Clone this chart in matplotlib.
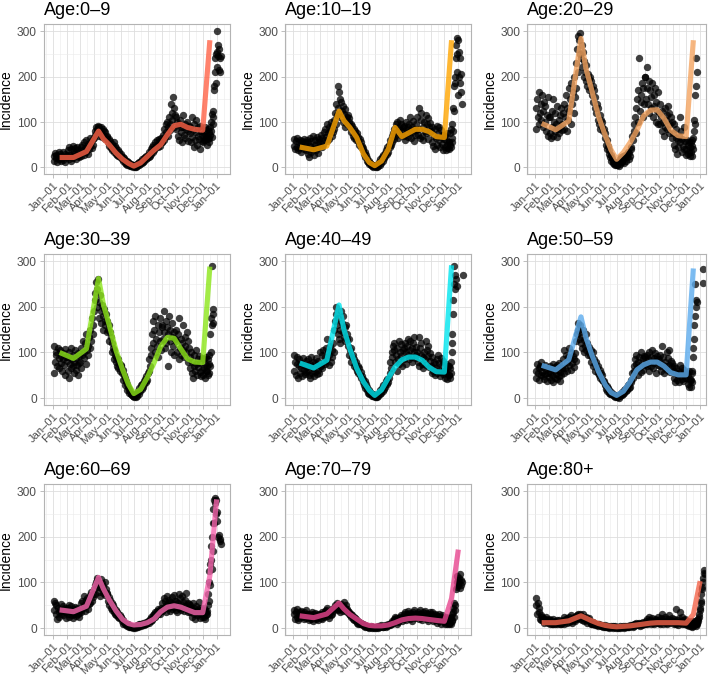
import numpy as np
import matplotlib
matplotlib.use("Agg")
import matplotlib.pyplot as plt

plt.rcParams['font.family'] = ['Liberation Sans', 'DejaVu Sans']

# ---------------- data ----------------
titles = ["Age:0–9", "Age:10–19", "Age:20–29", "Age:30–39", "Age:40–49",
          "Age:50–59", "Age:60–69", "Age:70–79", "Age:80+"]
line_colors = ["#FF6347", "#FFA500", "#F4A460", "#8CE619", "#00E5EE",
               "#5CACEE", "#F766AE", "#E8468F", "#F4644A"]

month_labels = ["Jan–01", "Feb–01", "Mar–01", "Apr–01", "May–01", "Jun–01", "Jul–01",
                "Aug–01", "Sep–01", "Oct–01", "Nov–01", "Dec–01", "Jan–01"]
month_days = [0, 31, 59, 90, 120, 151, 181, 212, 243, 273, 304, 334, 365]

# observation chunks: Jan..Nov, early Dec (day 334-344), then daily tail from day 344
chunk_starts = [0, 31, 59, 90, 120, 151, 181, 212, 243, 273, 304, 334]
chunk_ends = [31, 59, 90, 120, 151, 181, 212, 243, 273, 304, 334, 344]
tail_start = 344
nan = float("nan")

obs_0_9 = [
    [25, 15, 32, 20, 28, 12, 22, 35, 18, 30, 14, 26, 20, 33, 16, 24, 30, 12, 22, 28],
    [22, 38, 18, 45, 28, 15, 40, 25, 48, 20, 35, 30, 42, 18, 28, 45, 25, 38, 22, 32],
    [30, 45, 25, 50, 38, 28, 55, 42, 35, 60, 45, 30, 52, 40, 65, 48, 55, 42, 62, 50],
    [65, 80, 72, 90, 85, 78, 92, 70, 88, 82, 75, 90, 68, 85, 72, 80, 62, 78, 65, 70],
    [68, 55, 62, 48, 58, 42, 52, 38, 45, 55, 35, 48, 30, 42, 28, 38, 25, 35, 22, 30],
    [25, 18, 22, 14, 20, 10, 16, 8, 14, 6, 12, 5, 10, 3, 8, 4, 6, 2, 5, 3],
    [2, 5, 0, 8, 3, 10, 5, 12, 8, 15, 10, 18, 12, 20, 15, 22, 18, 25, 20, 28],
    [22, 35, 25, 40, 30, 45, 35, 50, 38, 55, 42, 48, 60, 45, 52, 62, 48, 58, 65, 55],
    [55, 72, 60, 85, 68, 95, 78, 100, 70, 88, 110, 82, 95, 140, 105, 120, 155, 90, 130, 115],
    [110, 85, 100, 70, 95, 60, 105, 78, 90, 55, 88, 115, 72, 95, 65, 85, 100, 58, 80, 92],
    [75, 90, 55, 110, 68, 82, 45, 95, 60, 78, 105, 50, 88, 70, 62, 92, 40, 80, 58, 72],
    [55, 75, 60, 90, 70, 62, 82, 50],
    [70, 62, 85, 55, 78, 65, 90, 72, 80, 100, 68, 118, 95, 110, 125, 180, 170, 210,
     240, 185, 250, 300, 255, 220, 270, 245, 215, 260, 240, 210, 245, nan, nan, nan],
]
obs_10_19 = [
    [48, 62, 40, 58, 45, 65, 38, 55, 42, 60, 35, 52, 58, 44, 62, 40, 55, 48, 38, 60],
    [30, 55, 22, 48, 65, 35, 58, 40, 70, 45, 28, 60, 50, 38, 68, 42, 55, 32, 62, 48],
    [55, 72, 45, 65, 50, 78, 60, 85, 68, 95, 58, 75, 88, 62, 80, 100, 70, 92, 78, 85],
    [105, 120, 95, 140, 115, 180, 130, 165, 150, 110, 145, 125, 100, 135, 118, 90, 128, 105, 112, 95],
    [115, 100, 108, 88, 95, 78, 92, 70, 85, 65, 80, 72, 60, 75, 58, 68, 50, 62, 45, 55],
    [48, 38, 42, 30, 35, 22, 28, 15, 20, 12, 15, 8, 10, 5, 8, 4, 6, 2, 4, 3],
    [2, 5, 1, 8, 4, 12, 6, 18, 10, 22, 15, 28, 20, 32, 25, 38, 30, 45, 35, 50],
    [45, 60, 50, 70, 55, 75, 62, 85, 70, 95, 78, 100, 65, 90, 82, 105, 72, 95, 80, 88],
    [70, 92, 60, 85, 100, 75, 88, 68, 95, 80, 110, 65, 90, 78, 102, 58, 85, 72, 96, 82],
    [110, 72, 130, 85, 65, 105, 120, 70, 90, 60, 100, 80, 115, 75, 95, 62, 108, 88, 78, 98],
    [80, 55, 90, 48, 70, 85, 40, 65, 92, 50, 75, 60, 88, 45, 68, 82, 52, 72, 38, 62],
    [45, 70, 38, 60, 50, 75, 42, 55],
    [55, 40, 75, 50, 85, 45, 65, 95, 55, 130, 80, 125, 180, 200, 185, 240, 270, 250,
     210, 285, 280, 160, 255, 200, 240, 185, 165, 205, 140, nan, nan, nan, nan, nan],
]
obs_20_29 = [
    [130, 85, 150, 110, 95, 165, 120, 140, 105, 160, 90, 125, 145, 100, 135, 80, 115, 155, 70, 110],
    [75, 110, 65, 125, 90, 70, 150, 100, 80, 120, 95, 68, 135, 85, 105, 75, 115, 90, 130, 82],
    [95, 120, 85, 140, 110, 160, 80, 130, 105, 175, 125, 150, 95, 185, 140, 165, 120, 200, 155, 175],
    [230, 260, 290, 210, 280, 250, 295, 240, 270, 220, 255, 200, 235, 210, 190, 225, 180, 205, 170, 195],
    [200, 175, 190, 160, 180, 145, 170, 130, 155, 120, 140, 105, 130, 95, 115, 85, 105, 90, 100, 80],
    [85, 65, 75, 50, 60, 40, 48, 30, 38, 22, 28, 15, 20, 10, 15, 8, 12, 5, 10, 6],
    [5, 12, 3, 18, 8, 22, 12, 15, 25, 10, 20, 28, 15, 30, 22, 35, 18, 32, 25, 40],
    [45, 70, 60, 95, 80, 110, 75, 130, 150, 100, 170, 240, 125, 160, 145, 185, 110, 175, 140, 200],
    [200, 150, 175, 220, 140, 190, 120, 170, 130, 155, 185, 110, 160, 135, 175, 100, 145, 125, 165, 95],
    [120, 140, 95, 110, 80, 125, 100, 70, 130, 90, 105, 115, 85, 135, 75, 120, 95, 110, 65, 100],
    [75, 50, 95, 40, 65, 85, 30, 60, 45, 70, 110, 55, 80, 35, 62, 48, 90, 40, 58, 28],
    [40, 60, 30, 50, 35, 55, 25, 45],
    [35, 55, 25, 48, 60, 40, 65, 80, 105, 95, 160, 240, 180, 210],
]
obs_30_39 = [
    [55, 115, 80, 100, 95, 70, 110, 88, 65, 105, 78, 92, 60, 98, 85, 72, 108, 50, 90, 82],
    [90, 60, 100, 45, 75, 110, 65, 85, 70, 95, 55, 80, 105, 62, 88, 72, 98, 50, 78, 92],
    [80, 110, 65, 95, 125, 88, 100, 120, 75, 140, 105, 115, 95, 135, 150, 110, 125, 175, 140, 160],
    [190, 230, 215, 255, 240, 200, 260, 210, 175, 225, 190, 165, 205, 180, 150, 195, 170, 160, 185, 145],
    [170, 150, 160, 125, 145, 135, 100, 120, 110, 85, 105, 95, 80, 90, 70, 85, 65, 78, 60, 72],
    [70, 55, 62, 40, 50, 45, 28, 38, 32, 18, 25, 20, 12, 15, 10, 8, 6, 5, 4, 3],
    [4, 8, 2, 12, 5, 15, 10, 22, 15, 28, 20, 30, 25, 38, 30, 42, 35, 48, 40, 55],
    [60, 85, 70, 110, 95, 140, 120, 170, 150, 180, 100, 130, 115, 160, 90, 145, 125, 175, 105, 155],
    [160, 130, 190, 145, 110, 170, 120, 155, 70, 140, 180, 125, 150, 100, 165, 135, 115, 145, 95, 130],
    [125, 150, 100, 140, 85, 175, 110, 130, 95, 120, 105, 160, 90, 135, 115, 100, 145, 80, 125, 110],
    [90, 65, 100, 55, 80, 45, 70, 95, 60, 75, 105, 50, 85, 68, 92, 58, 78, 48, 88, 62],
    [50, 85, 65, 75, 45, 90, 60, 70],
    [60, 85, 50, 75, 95, 55, 70, 140, 100, 175, 290, 160, 195, 185, 165],
]
obs_40_49 = [
    [95, 60, 80, 50, 75, 90, 45, 70, 85, 55, 65, 78, 48, 88, 62, 72, 52, 82, 58, 68],
    [60, 85, 50, 75, 45, 70, 90, 55, 80, 65, 48, 78, 58, 88, 52, 72, 62, 82, 55, 70],
    [100, 70, 95, 65, 105, 80, 90, 75, 110, 130, 85, 100, 72, 95, 115, 80, 105, 90, 120, 100],
    [150, 170, 200, 185, 160, 140, 175, 130, 150, 120, 190, 165, 145, 180, 135, 155, 125, 160, 140, 130],
    [115, 130, 95, 105, 110, 80, 90, 95, 70, 85, 75, 65, 80, 60, 70, 55, 65, 50, 58, 45],
    [48, 35, 42, 28, 38, 22, 30, 18, 25, 12, 18, 10, 14, 8, 10, 5, 8, 4, 6, 3],
    [3, 6, 2, 10, 5, 12, 8, 18, 12, 22, 15, 28, 20, 32, 25, 38, 30, 42, 35, 45],
    [55, 80, 65, 100, 90, 115, 105, 120, 80, 95, 60, 110, 85, 125, 75, 100, 92, 118, 70, 105],
    [110, 85, 120, 100, 75, 115, 95, 130, 85, 105, 125, 90, 110, 80, 120, 100, 135, 88, 112, 95],
    [100, 80, 135, 70, 110, 95, 120, 75, 90, 65, 100, 85, 125, 72, 105, 92, 115, 68, 98, 82],
    [70, 55, 90, 60, 80, 50, 75, 65, 85, 55, 95, 62, 78, 48, 88, 58, 72, 52, 82, 60],
    [60, 45, 75, 55, 65, 42, 70, 50],
    [50, 70, 45, 65, 80, 55, 100, 140, 120, 185, 215, 250, 290, 240, 270, 260, nan, 245,
     nan, nan, nan, nan, nan, nan, nan, nan, nan, nan, nan, nan, nan, 270, nan, nan],
]
obs_50_59 = [
    [60, 45, 75, 55, 65, 40, 70, 50, 80, 58, 48, 68, 42, 72, 52, 62, 38, 66, 55, 46],
    [55, 70, 40, 65, 50, 75, 35, 60, 45, 68, 52, 72, 42, 62, 48, 78, 38, 58, 50, 66],
    [70, 85, 55, 105, 65, 95, 80, 60, 90, 110, 72, 88, 62, 100, 78, 92, 68, 85, 98, 82],
    [125, 140, 165, 150, 130, 145, 160, 120, 135, 110, 150, 100, 128, 115, 140, 105, 120, 95, 112, 100],
    [95, 105, 80, 90, 100, 70, 85, 75, 60, 80, 65, 55, 70, 50, 62, 45, 55, 40, 50, 38],
    [38, 28, 32, 20, 26, 15, 22, 12, 18, 10, 14, 8, 10, 6, 8, 4, 6, 3, 5, 3],
    [3, 5, 1, 8, 4, 10, 6, 14, 9, 18, 12, 20, 15, 24, 18, 28, 22, 30, 25, 35],
    [40, 55, 45, 70, 60, 85, 75, 95, 65, 80, 50, 90, 68, 100, 58, 78, 88, 62, 92, 72],
    [90, 75, 95, 70, 85, 60, 100, 80, 90, 70, 105, 65, 88, 78, 98, 55, 82, 92, 72, 86],
    [85, 70, 95, 60, 115, 75, 90, 55, 80, 65, 70, 100, 62, 88, 72, 105, 58, 82, 68, 78],
    [60, 45, 70, 35, 55, 65, 40, 50, 60, 35, 72, 48, 58, 42, 66, 38, 52, 62, 45, 55],
    [45, 55, 30, 50, 25, 60, 38, 42],
    [40, 25, 55, 35, 60, 90, 110, 130, 160, 250, 180, 215, 200, 210,
     nan, nan, nan, nan, nan, nan, nan, nan, nan, nan, nan, nan, nan,
     252, 282, nan, nan, nan, nan, nan],
]
obs_60_69 = [
    [60, 40, 55, 30, 50, 20, 45, 35, 25, 40, 30, 52, 38, 48, 28, 42, 35, 45, 22, 38],
    [45, 30, 50, 25, 40, 35, 48, 28, 38, 22, 42, 32, 46, 26, 36, 44, 30, 40, 24, 34],
    [40, 55, 35, 60, 45, 70, 50, 38, 62, 48, 65, 42, 58, 52, 72, 55, 80, 60, 68, 75],
    [85, 95, 75, 100, 110, 105, 90, 80, 95, 70, 108, 88, 98, 78, 92, 82, 100, 72, 86, 76],
    [75, 60, 68, 50, 62, 45, 55, 40, 50, 35, 45, 30, 40, 28, 35, 25, 30, 22, 28, 25],
    [22, 15, 18, 10, 14, 8, 12, 6, 10, 4, 8, 3, 6, 2, 5, 2, 4, 1, 3, 2],
    [3, 1, 5, 2, 6, 3, 8, 4, 10, 5, 8, 6, 12, 7, 10, 8, 14, 9, 12, 15],
    [15, 12, 20, 16, 25, 18, 28, 22, 32, 25, 35, 28, 38, 30, 42, 35, 40, 32, 45, 38],
    [55, 40, 65, 45, 60, 35, 50, 70, 45, 55, 62, 38, 58, 48, 68, 42, 52, 72, 46, 60],
    [40, 60, 35, 55, 75, 45, 65, 40, 50, 70, 45, 58, 38, 62, 48, 78, 42, 55, 35, 52],
    [50, 35, 45, 25, 40, 55, 30, 45, 20, 35, 48, 28, 42, 38, 58, 22, 32, 45, 25, 40],
    [30, 45, 25, 40, 20, 35, 28, 38],
    [30, 50, 75, 100, 60, 125, 140, 95, 150, 180, 130, 200, 230, 170, 260, 230, 280, 285,
     275, 250, 280, 235, 255, nan, 200, nan, 205, nan, 190, 195, 185, nan, nan, nan],
]
obs_70_79 = [
    [30, 40, 20, 35, 25, 42, 18, 30, 22, 35, 28, 38, 24, 32, 20, 36, 26, 40, 22, 30],
    [25, 32, 18, 28, 22, 30, 20, 35, 25, 16, 30, 24, 34, 20, 28, 22, 32, 18, 26, 30],
    [28, 22, 35, 20, 32, 25, 38, 30, 40, 45, 26, 34, 22, 30, 36, 28, 42, 32, 38, 44],
    [45, 50, 42, 48, 55, 45, 40, 50, 35, 42, 52, 46, 38, 48, 57, 44, 40, 50, 36, 42],
    [38, 32, 35, 28, 30, 25, 28, 20, 25, 18, 22, 15, 20, 12, 16, 10, 14, 8, 12, 10],
    [10, 6, 8, 4, 6, 3, 5, 2, 4, 2, 3, 1, 3, 2, 4, 1, 2, 3, 1, 2],
    [2, 1, 3, 1, 4, 2, 5, 3, 6, 4, 3, 2, 5, 4, 6, 3, 7, 5, 8, 6],
    [8, 6, 12, 10, 15, 12, 20, 18, 25, 22, 10, 16, 14, 22, 18, 24, 20, 28, 15, 25],
    [30, 20, 35, 25, 18, 32, 22, 38, 28, 20, 34, 24, 30, 16, 36, 26, 40, 22, 32, 28],
    [25, 35, 20, 30, 40, 22, 32, 18, 28, 36, 24, 38, 26, 34, 20, 30, 16, 28, 36, 22],
    [30, 20, 35, 15, 25, 32, 18, 28, 12, 22, 26, 16, 30, 20, 24, 10, 28, 18, 22, 14],
    [18, 10, 25, 15, 20, 8, 22, 12],
    [15, 8, 22, 12, 25, 10, 18, 30, 15, 35, 45, 25, 55, 40, 50, nan, 85, 100, 90, 115,
     105, 95, 110, 100, 118, 88, 105, 95, 100, nan, nan, nan, nan, nan],
]
obs_80_plus = [
    [50, 65, 30, 55, 35, 45, 20, 28, 18, 25, 15, 22, 12, 20, 16, 24, 14, 18, 12, 20],
    [15, 10, 18, 8, 12, 20, 10, 14, 9, 16, 12, 18, 8, 14, 11, 17, 9, 13, 10, 15],
    [12, 18, 10, 25, 15, 20, 12, 22, 18, 25, 14, 20, 16, 28, 12, 22, 18, 24, 15, 26],
    [20, 28, 22, 30, 25, 32, 20, 26, 18, 24, 30, 22, 15, 22, 18, 25, 12, 20, 16, 22],
    [15, 10, 12, 8, 14, 10, 12, 6, 10, 8, 6, 9, 5, 8, 6, 7, 4, 6, 5, 3],
    [4, 2, 6, 3, 5, 2, 4, 1, 3, 2, 5, 3, 2, 4, 1, 3, 2, 4, 1, 2],
    [2, 1, 3, 1, 4, 2, 3, 2, 5, 3, 1, 4, 2, 3, 5, 2, 4, 3, 6, 4],
    [4, 6, 3, 8, 5, 10, 7, 12, 9, 6, 8, 11, 5, 9, 12, 7, 10, 14, 8, 11],
    [10, 15, 8, 20, 12, 25, 15, 18, 10, 14, 22, 12, 16, 9, 20, 13, 18, 11, 24, 15],
    [12, 18, 8, 22, 15, 30, 10, 20, 14, 25, 12, 16, 9, 20, 13, 28, 11, 18, 15, 22],
    [15, 8, 20, 12, 42, 10, 18, 6, 14, 22, 35, 12, 16, 9, 25, 13, 18, 8, 20, 14],
    [10, 6, 15, 8, 12, 5, 14, 9],
    [5, 12, 3, 8, 15, 4, 10, 6, 12, 8, 15, 5, 10, 18, 8, 12, 20, 15, 30, 25, 45, 40,
     60, 55, 75, 85, 90, 110, 100, 120, 128, 118, nan, nan],
]
observations = [obs_0_9, obs_10_19, obs_20_29, obs_30_39, obs_40_49,
                obs_50_59, obs_60_69, obs_70_79, obs_80_plus]

# fitted curve knots (days from Jan 1) and per-panel values
knot_days = [14, 45, 74, 101, 112, 125, 140, 155, 168, 180, 195, 210, 225, 240,
             255, 270, 285, 300, 316, 334, 350, 365]
fit_0_9 = [22, 22, 35, 80, 63, 50, 32, 18, 9, 3, 10, 24, 38, 50, 72, 92, 95, 88, 84, 82, 280, nan]
fit_10_19 = [45, 39, 47, 124, 103, 88, 66, 30, 11, 4, 14, 40, 88, 68, 76, 84, 84, 79, 68, 66, 280, nan]
fit_20_29 = [97, 83, 102, 284, 218, 170, 112, 70, 38, 18, 33, 55, 82, 114, 126, 127, 108, 82, 70, 68, 280, nan]
fit_30_39 = [100, 87, 108, 262, 205, 160, 105, 62, 30, 10, 19, 45, 77, 113, 133, 131, 108, 86, 79, 78, 288, nan]
fit_40_49 = [77, 66, 83, 204, 150, 108, 66, 36, 17, 6, 18, 44, 68, 84, 90, 90, 83, 68, 58, 57, 291, nan]
fit_50_59 = [72, 62, 84, 178, 133, 95, 58, 29, 12, 6, 15, 36, 62, 73, 79, 79, 70, 56, 51, 51, 284, nan]
fit_60_69 = [40, 36, 48, 111, 86, 62, 38, 19, 10, 7, 8, 12, 20, 36, 46, 49, 46, 40, 34, 34, 115, 282]
fit_70_79 = [27, 23, 31, 55, 42, 30, 20, 10, 6, 5, 5, 7, 12, 18, 21, 22, 21, 19, 17, 15, 65, 172]
fit_80_plus = [12, 12, 16, 27, 22, 16, 10, 6, 4, 3, 4, 5, 7, 9, 11, 12, 12, 12, 12, 11, 30, 103]
fits = [fit_0_9, fit_10_19, fit_20_29, fit_30_39, fit_40_49,
        fit_50_59, fit_60_69, fit_70_79, fit_80_plus]

# ---------------- layout ----------------
W, H = 714, 678
col_px = [(43.5, 230.0), (285.0, 471.0), (527.0, 706.0)]
row_px = [(24.3, 174.3), (254.3, 405.0), (484.3, 635.0)]
col_xlim = [(-22, 395), (-18.5, 393), (-18.5, 378)]


def expand(chunks):
    xs, ys = [], []
    for k, vals in enumerate(chunks[:-1]):
        s, e = chunk_starts[k], chunk_ends[k]
        n = len(vals)
        step = (e - s) / n
        for i, v in enumerate(vals):
            xs.append(s + (i + 0.5) * step)
            ys.append(v)
    for i, v in enumerate(chunks[-1]):
        xs.append(tail_start + i)
        ys.append(v)
    return np.array(xs, float), np.array(ys, float)


fig = plt.figure(figsize=(W / 100, H / 100), dpi=100)
fig.patch.set_facecolor("white")

grid_major = "#DEDEDE"
grid_minor = "#EBEBEB"
frame = "#B3B3B3"
tick_txt = "#4D4D4D"

for p in range(9):
    r, c = divmod(p, 3)
    x0, x1 = col_px[c]
    ytop, ybot = row_px[r]
    ax = fig.add_axes([x0 / W, 1 - ybot / H, (x1 - x0) / W, (ybot - ytop) / H])
    xs, ys = expand(observations[p])
    ok = ~np.isnan(ys)
    ax.scatter(xs[ok], ys[ok], s=28, c="black", alpha=0.75, linewidths=0, zorder=2)
    ax.plot(knot_days, fits[p], color=line_colors[p], lw=3.7, alpha=0.8,
            solid_capstyle="butt", solid_joinstyle="round", zorder=3)

    xl = col_xlim[c]
    ax.set_xlim(*xl)
    ax.set_ylim(-15, 315)
    ax.set_xticks(month_days)
    ax.set_xticklabels(month_labels, rotation=45, ha="right", va="top",
                       rotation_mode="anchor", fontsize=8.0, color=tick_txt)
    mids = [(month_days[i] + month_days[i + 1]) / 2 for i in range(12)]
    mids = [m for m in [-15.5] + mids + [380.5] if xl[0] < m < xl[1]]
    ax.set_xticks(mids, minor=True)
    ax.set_yticks([0, 100, 200, 300])
    ax.set_yticks([50, 150, 250], minor=True)
    ax.tick_params(axis="y", labelsize=8.6, labelcolor=tick_txt)
    ax.tick_params(which="major", color=frame, length=2.8, width=0.6, pad=2)
    ax.tick_params(axis="x", which="major", pad=1.5)
    ax.tick_params(which="minor", length=0)
    ax.grid(which="major", color=grid_major, lw=0.6)
    ax.grid(which="minor", color=grid_minor, lw=0.4)
    ax.set_axisbelow(True)
    for sp in ax.spines.values():
        sp.set_color(frame)
        sp.set_linewidth(0.8)
    ax.set_ylabel("Incidence", fontsize=10, labelpad=3)
    ax.set_title(titles[p], loc="left", fontsize=13, pad=7)

fig.savefig("out.png", dpi=100)
